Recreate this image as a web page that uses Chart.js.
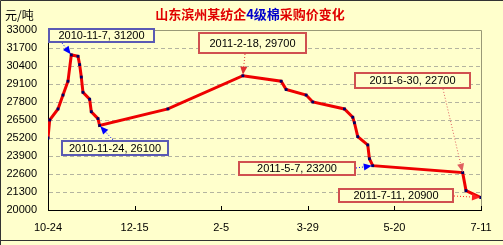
<!DOCTYPE html>
<html><head><meta charset="utf-8">
<script src="https://cdn.jsdelivr.net/npm/chart.js@4.4.0/dist/chart.umd.min.js"></script>
<style>html,body{margin:0;padding:0;background:#FFFFCC;}canvas{display:block;}</style>
</head><body>
<canvas id="c" width="503" height="245"></canvas>
<script>
// ---- data ----
const dates = ['2010-10-24','2010-10-25','2010-10-30','2010-11-02','2010-11-05','2010-11-07','2010-11-11','2010-11-12','2010-11-13','2010-11-14','2010-11-18','2010-11-19','2010-11-23','2010-11-24','2011-01-04','2011-02-18','2011-03-13','2011-03-16','2011-03-28','2011-04-01','2011-04-20','2011-04-25','2011-04-26','2011-04-28','2011-05-04','2011-05-05','2011-05-07','2011-06-30','2011-07-02','2011-07-11'];
const prices = [25200,26500,27300,28300,29300,31200,31100,30500,29600,28500,28000,27100,26600,26100,27300,29700,29300,28700,28300,27800,27300,26700,26300,25300,24700,23700,23200,22700,21400,20900];
const xTickDates = ['2010-10-24','2010-12-15','2011-02-05','2011-03-29','2011-05-20','2011-07-11'];
const xTickLabels = ['10-24','12-15','2-5','3-29','5-20','7-11'];
const yTicks = [20000,21300,22600,23900,25200,26500,27800,29100,30400,31700,33000];
const yUnit = '元/吨';
const titleParts = [['山东滨州某纺企','#e00000'],['4级棉','#0000cc'],['采购价变化','#e00000']];
const calloutDates = ['2010-11-07','2011-02-18','2011-06-30','2010-11-24','2011-05-07','2011-07-11'];
const calloutTexts = ['2010-11-7, 31200','2011-2-18, 29700','2011-6-30, 22700','2010-11-24, 26100','2011-5-7, 23200','2011-7-11, 20900'];

// ---- helpers ----
const base = Date.UTC(2010, 9, 24);
function dayOf(s){const p=s.split('-').map(Number);return (Date.UTC(p[0],p[1]-1,p[2])-base)/86400000;}
const points = dates.map((d,i)=>({x:dayOf(d), y:prices[i]}));
const xTickVals = xTickDates.map(dayOf);

// callout styling / placement (pixel boxes, anchor on box)
const calloutStyle = [
  {box:[48,28,107,15], from:[62,43], border:'#5a5ab4', line:'#0000ff'},
  {box:[198,32,109,22], from:[245,54], border:'#d05050', line:'#e03030'},
  {box:[354,72,117,17], from:[443,89], border:'#d05050', line:'#e06060'},
  {box:[61,140,108,16], from:[113,140], border:'#5a5ab4', line:'#0000ff'},
  {box:[238,161,118,15], from:[356,168], border:'#d05050', line:'#0000ff'},
  {box:[338,188,116,15], from:[454,196], border:'#d05050', line:'#ff2020'}
];

const deco = {
  id:'deco',
  beforeDraw(chart){
    const c=chart.ctx;
    c.save();
    c.fillStyle='#FFFFCC';c.fillRect(0,0,chart.width,chart.height);
    c.strokeStyle='#333';c.lineWidth=1;
    c.beginPath();c.moveTo(0.5,chart.height);c.lineTo(0.5,0.5);c.lineTo(chart.width,0.5);
    c.moveTo(0,chart.height-4.5);c.lineTo(chart.width,chart.height-4.5);c.stroke();
    c.restore();
  },
  beforeDatasetsDraw(chart){
    const c=chart.ctx, a=chart.chartArea, xs=chart.scales.x;
    c.save();
    c.strokeStyle='#999977';c.lineWidth=1;
    c.beginPath();c.moveTo(a.left,a.top+0.5);c.lineTo(a.right+0.5,a.top+0.5);c.lineTo(a.right+0.5,a.bottom);c.stroke();
    c.strokeStyle='#000';
    c.beginPath();
    xTickVals.forEach(v=>{const px=Math.round(xs.getPixelForValue(v))+0.5;c.moveTo(px,a.bottom);c.lineTo(px,a.bottom-4);});
    c.stroke();
    // title
    c.font='bold 13px "Noto Sans CJK SC"';c.textBaseline='middle';
    let total=0;titleParts.forEach(p=>total+=c.measureText(p[0]).width);
    let x=250-total/2;
    titleParts.forEach(p=>{c.fillStyle=p[1];c.fillText(p[0],x,14);x+=c.measureText(p[0]).width;});
    c.fillStyle='#000';c.font='12px "Noto Sans CJK SC"';c.fillText(yUnit,5,15);
    c.restore();
  },
  afterDatasetsDraw(chart){
    const c=chart.ctx, xs=chart.scales.x, ys=chart.scales.y;
    c.save();
    calloutDates.forEach((d,i)=>{
      const idx=dates.indexOf(d);
      const px=xs.getPixelForValue(points[idx].x), py=ys.getPixelForValue(points[idx].y);
      const st=calloutStyle[i];
      const [bx,by,bw,bh]=st.box;
      const fx=st.from[0], fy=st.from[1];
      const ang=Math.atan2(py-fy,px-fx);
      const tx=px-Math.cos(ang)*1, ty=py-Math.sin(ang)*1;
      c.strokeStyle=st.line;c.lineWidth=1;c.setLineDash([1,2]);
      c.beginPath();c.moveTo(fx,fy);c.lineTo(tx,ty);c.stroke();c.setLineDash([]);
      const L=8,W=3.5;
      c.fillStyle=st.line;
      c.beginPath();c.moveTo(tx,ty);
      c.lineTo(tx-Math.cos(ang)*L+Math.sin(ang)*W, ty-Math.sin(ang)*L-Math.cos(ang)*W);
      c.lineTo(tx-Math.cos(ang)*L-Math.sin(ang)*W, ty-Math.sin(ang)*L+Math.cos(ang)*W);
      c.closePath();c.fill();
      c.fillStyle='#FFFFCC';c.fillRect(bx,by,bw,bh);
      c.strokeStyle=st.border;c.lineWidth=2;c.strokeRect(bx+1,by+1,bw-2,bh-2);
      c.fillStyle='#000';c.font='11px "Liberation Sans"';c.textAlign='center';c.textBaseline='middle';
      c.fillText(calloutTexts[i],bx+bw/2,by+bh/2+0.5);
    });
    c.restore();
  }
};

new Chart(document.getElementById('c'),{
  type:'line',
  data:{datasets:[{data:points,borderColor:'#ee0000',borderWidth:3,tension:0,
    pointStyle:'rect',pointRadius:2,pointBackgroundColor:'#000066',pointBorderColor:'#000066',pointBorderWidth:0}]},
  options:{
    responsive:false,animation:false,
    layout:{padding:{left:0,right:22,top:30,bottom:0}},
    plugins:{legend:{display:false},tooltip:{enabled:false}},
    scales:{
      x:{type:'linear',min:0,max:xTickVals[xTickVals.length-1],
        afterBuildTicks(s){s.ticks=xTickVals.map(v=>({value:v}));},
        afterFit(s){s.height=35;},
        grid:{display:false,drawTicks:false},
        border:{display:true,color:'#000',width:1},
        ticks:{padding:11,color:'#000',font:{family:'Liberation Sans',size:11},maxRotation:0,autoSkip:false,
          callback(v){const i=xTickVals.indexOf(v);return i>=0?xTickLabels[i]:'';}}},
      y:{min:yTicks[0],max:yTicks[yTicks.length-1],
        afterBuildTicks(s){s.ticks=yTicks.map(v=>({value:v}));},
        afterFit(s){s.width=48;},
        grid:{color:'#b4b4a0',drawTicks:false},
        border:{display:true,color:'#000',width:1,dash:[4,3]},
        ticks:{padding:11,color:'#000',font:{family:'Liberation Sans',size:11},autoSkip:false,
          callback(v){return String(v);}}}
    }
  },
  plugins:[deco]
});
</script>
</body></html>
